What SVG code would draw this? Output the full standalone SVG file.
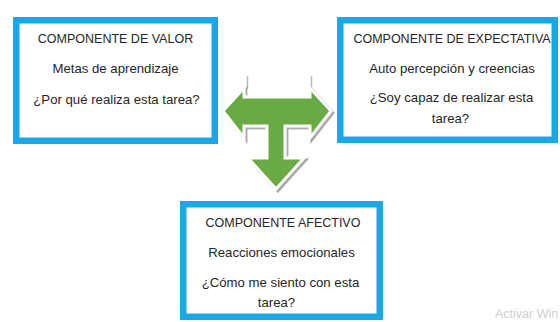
<svg xmlns="http://www.w3.org/2000/svg" width="560" height="322" viewBox="0 0 560 322">
  <defs>
    <style>
      .box { fill: #ffffff; stroke: #1DA6E5; stroke-width: 6.5; }
      .hd { font-family: "Liberation Sans", Arial, sans-serif; font-size: 12.5px; fill: #262626; text-anchor: middle; }
      .tx { font-family: "Liberation Sans", Arial, sans-serif; font-size: 13.2px; fill: #262626; text-anchor: middle; }
      .wm { font-family: "Liberation Sans", Arial, sans-serif; font-size: 12.5px; fill: #d0d0d0; }
      .arrow { fill: #6AAA45; stroke: #ffffff; stroke-width: 3; stroke-linejoin: miter; }
      .edge { stroke: #b8b8b8; stroke-width: 1.5; fill: none; }
    </style>
    <filter id="shadow" x="-20%" y="-20%" width="140%" height="140%">
      <feDropShadow dx="1.8" dy="1.8" stdDeviation="0.6" flood-color="#9a9a9a" flood-opacity="0.9"/>
    </filter>
  </defs>
  <rect width="560" height="322" fill="#ffffff"/>

  <g id="connectors">
    <g id="arrow-t">
      <line class="edge" x1="247.5" y1="76" x2="247.5" y2="89"/>
      <line class="edge" x1="311.5" y1="76" x2="311.5" y2="89"/>
      <polygon class="arrow" filter="url(#shadow)" points="223,111 244,88 244,97 310,97 310,88 331,111 310,138 310,126 285,126 285,158 304,158 276,189 248,158 267,158 267,126 244,126 244,138"/>
    </g>
  </g>

  <g id="node-valor">
    <rect class="box" x="16.25" y="20.25" width="198.5" height="120.5"/>
    <text class="hd" x="115.5" y="42.5">COMPONENTE DE VALOR</text>
    <text class="tx" x="115.5" y="73">Metas de aprendizaje</text>
    <text class="tx" x="116.5" y="104">¿Por qué realiza esta tarea?</text>
  </g>

  <g id="node-expectativa">
    <rect class="box" x="340.25" y="20.25" width="214.5" height="119.5"/>
    <text class="hd" x="452" y="42.5">COMPONENTE DE EXPECTATIVA</text>
    <text class="tx" x="452" y="73">Auto percepción y creencias</text>
    <text class="tx" x="451.5" y="101.5">¿Soy capaz de realizar esta</text>
    <text class="tx" x="450.5" y="122.5">tarea?</text>
  </g>

  <g id="node-afectivo">
    <rect class="box" x="183.25" y="204.25" width="196.5" height="112.5"/>
    <text class="hd" x="283" y="226.5">COMPONENTE AFECTIVO</text>
    <text class="tx" x="281.5" y="256.5">Reacciones emocionales</text>
    <text class="tx" x="280.5" y="286.5">¿Cómo me siento con esta</text>
    <text class="tx" x="276.5" y="307">tarea?</text>
  </g>

  <text class="wm" x="495" y="317.5">Activar Win</text>
</svg>
